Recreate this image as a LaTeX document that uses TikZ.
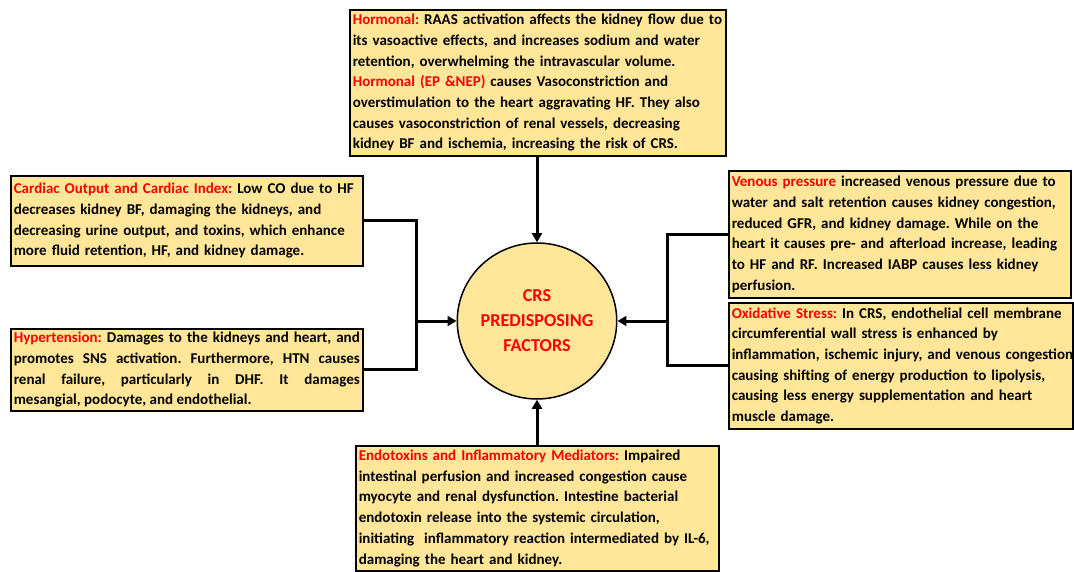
\documentclass[tikz,border=0pt]{standalone}
\usepackage{fontspec}
\setmainfont{Carlito}
\frenchspacing
\usetikzlibrary{shapes.geometric,arrows.meta,shadows}
\definecolor{boxfill}{HTML}{FFE699}
\definecolor{hdred}{HTML}{FF0000}
\newcommand{\hd}[1]{\textcolor{hdred}{#1}}
\tikzset{
 factor/.style={draw=black,line width=1.6pt,fill=boxfill,anchor=north west,
  inner xsep=3pt,inner ysep=1pt,align=left,
  font=\fontsize{15}{20.7}\selectfont\bfseries,
  drop shadow={shadow xshift=1.5pt,shadow yshift=-1.5pt,fill=black!45,opacity=1}},
 conn/.style={line width=3pt},
}
\begin{document}
\begin{tikzpicture}[x=1pt,y=-1pt,>={Triangle[length=9pt,width=10pt]}]
 \useasboundingbox (0,0) rectangle (1074,572);
 % centre
 \node[ellipse,draw=black,line width=1.5pt,fill=boxfill,minimum width=142,minimum height=156,
  inner sep=0pt,align=center,text=hdred,font=\fontsize{18.2}{25}\selectfont\bfseries]
  (crs) at (537,321) {CRS\\PREDISPOSING\\FACTORS};
 % factors
 \node[factor,text width=370,minimum width=376,minimum height=146] (hormonal) at (349,9)
  {\hd{Hormonal:} RAAS activation affects the kidney flow due to\\
   its vasoactive effects, and increases sodium and water\\
   retention, overwhelming the intravascular volume.\\
   \hd{Hormonal (EP \&NEP)} causes Vasoconstriction and\\
   overstimulation to the heart aggravating HF. They also\\
   causes vasoconstriction of renal vessels, decreasing\\
   kidney BF and ischemia, increasing the risk of CRS.};
 \node[factor,text width=346,minimum width=352,minimum height=90] (cardiac) at (10,175)
  {\hd{Cardiac Output and Cardiac Index:} Low CO due to HF\\
   decreases kidney BF, damaging the kidneys, and\\
   decreasing urine output, and toxins, which enhance\\
   more fluid retention, HF, and kidney damage.};
 \node[factor,align=justify,text width=346,minimum width=352,minimum height=82] (htn) at (10,328)
  {\hd{Hypertension:} Damages to the kidneys and heart, and\linebreak
   promotes SNS activation. Furthermore, HTN causes\linebreak
   renal failure, particularly in DHF. It damages\linebreak
   mesangial, podocyte, and endothelial.};
 \node[factor,text width=336,minimum width=342,minimum height=127] (venous) at (728,170)
  {\hd{Venous pressure} increased venous pressure due to\\
   water and salt retention causes kidney congestion,\\
   reduced GFR, and kidney damage. While on the\\
   heart it causes pre- and afterload increase, leading\\
   to HF and RF. Increased IABP causes less kidney\\
   perfusion.};
 \node[factor,text width=338,minimum width=344,minimum height=126] (oxidative) at (728,302)
  {\hd{Oxidative Stress:} In CRS, endothelial cell membrane\\
   circumferential wall stress is enhanced by\\
   \mbox{inflammation, ischemic injury, and venous congestion}\\
   causing shifting of energy production to lipolysis,\\
   causing less energy supplementation and heart\\
   muscle damage.};
 \node[factor,text width=357,minimum width=363,minimum height=125] (endotox) at (355,445)
  {\hd{Endotoxins and Inflammatory Mediators:} Impaired\\
   intestinal perfusion and increased congestion cause\\
   myocyte and renal dysfunction. Intestine bacterial\\
   endotoxin release into the systemic circulation,\\
   initiating\ \ inflammatory reaction intermediated by IL-6,\\
   damaging the heart and kidney.};
 % connectors
 \coordinate (ljoin) at (416,321);
 \coordinate (rjoin) at (667,321);
 \draw[conn,->] (hormonal.south -| crs) -- (crs.north);
 \draw[conn,->] (endotox.north -| crs) -- (crs.south);
 \draw[conn] (cardiac.east) -| (ljoin) |- (htn.east);
 \draw[conn,->] (ljoin) -- (crs.west);
 \draw[conn] (venous.west) -| (rjoin) |- (oxidative.west);
 \draw[conn,->] (rjoin) -- (crs.east);
\end{tikzpicture}
\end{document}
